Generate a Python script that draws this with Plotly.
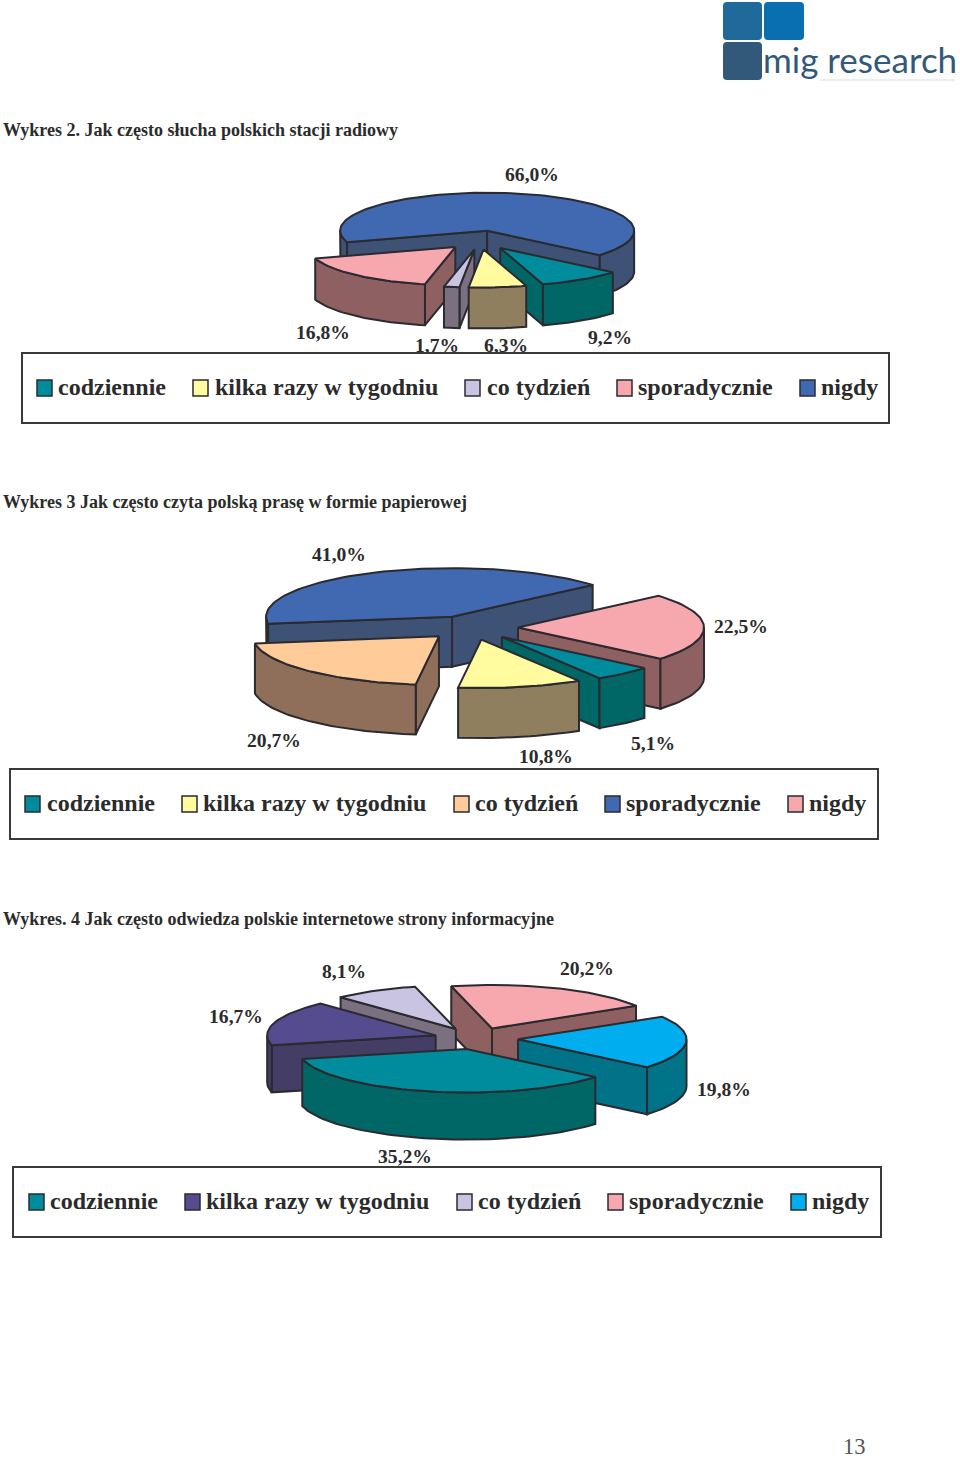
import math
import plotly.graph_objects as go

# ---- data ----
categories = ["codziennie", "kilka razy w tygodniu", "co tydzień", "sporadycznie", "nigdy"]
values_radio = [9.2, 6.3, 1.7, 16.8, 66.0]
values_press = [5.1, 10.8, 20.7, 41.0, 22.5]
values_web = [35.2, 16.7, 8.1, 20.2, 19.8]
title_radio = "Wykres 2. Jak często słucha polskich stacji radiowy"
title_press = "Wykres 3 Jak często czyta polską prasę w formie papierowej"
title_web = "Wykres. 4 Jak często odwiedza polskie internetowe strony informacyjne"

# ---- style ----
TEAL = ("#008C9C", "#006666")
YELLOW = ("#FFFB9E", "#8F7F5E")
LAV = ("#C8C4E2", "#7A7080")
PINK = ("#F7A8AE", "#8F6062")
BLUE = ("#4169B2", "#3E5276")
ORANGE = ("#FFCC99", "#8F6F5A")
PURPLE = ("#544C8E", "#443E66")
SKY = ("#00ADEF", "#007389")
EDGE = "#2A2A30"
TEXT = "#2B2B2B"
SERIF = "Liberation Serif"

charts = [
    dict(values=values_radio, colors=[TEAL, YELLOW, LAV, PINK, BLUE], cx=480, cy=240, rx=147, ry=38, depth=41, start=130,
         title=title_radio, title_y=130,
         label_xy=[(610, 339), (506, 347), (437, 347), (323, 334), (532, 176)],
         box=(22, 353, 889, 423), swatch_x=[37, 193, 465, 617, 800], text_x=[58, 215, 487, 638, 821], legend_y=388),
    dict(values=values_press, colors=[TEAL, YELLOW, ORANGE, BLUE, PINK], cx=471.5, cy=627.7, rx=186, ry=48.5, depth=50, start=130,
         title=title_press, title_y=502,
         label_xy=[(653, 745), (546, 758), (274, 742), (339, 556), (741, 628)],
         box=(10, 769, 878, 839), swatch_x=[25, 182, 454, 605, 788], text_x=[47, 203, 475, 626, 809], legend_y=804),
    dict(values=values_web, colors=[TEAL, PURPLE, LAV, PINK, SKY], cx=476, cy=1038.5, rx=168.5, ry=43.5, depth=47, start=130,
         title=title_web, title_y=919,
         label_xy=[(405, 1158), (236, 1018), (344, 973), (587, 970), (724, 1091)],
         box=(13, 1167, 881, 1237), swatch_x=[29, 185, 457, 608, 791], text_x=[50, 206, 478, 629, 812], legend_y=1202),
]
EXPLODE = 0.25

fig = go.Figure()
shapes = []
annotations = []


def note(x, y, text, size, color, family=SERIF, weight="bold", xanchor="left"):
    annotations.append(dict(x=x, y=y, text=text, xanchor=xanchor, yanchor="middle", showarrow=False,
                            borderpad=0, borderwidth=0,
                            font=dict(family=family, size=size, color=color, weight=weight)))


def poly(xs, ys, color):
    fig.add_trace(go.Scatter(x=xs + xs[:1], y=ys + ys[:1], mode="lines", fill="toself", fillcolor=color,
                             line=dict(color=EDGE, width=2), hoverinfo="skip", showlegend=False))


def arc(c, ax, ay, t1, t2, dy=0):
    n = max(2, int(abs(t2 - t1) / 2))
    ts = [math.radians(t1 + (t2 - t1) * i / n) for i in range(n + 1)]
    return ([ax + c["rx"] * math.sin(t) for t in ts],
            [ay - c["ry"] * math.cos(t) + dy for t in ts])


def draw_pie(c):
    total = sum(c["values"])
    slices = []
    a = c["start"]
    for v, col in zip(c["values"], c["colors"]):
        b = a + 360 * v / total
        slices.append((a, b, col))
        a = b
    # back slices first
    slices.sort(key=lambda s: -math.cos(math.radians((s[0] + s[1]) / 2)))
    d = c["depth"]
    for t1, t2, (top, side) in slices:
        mid = math.radians((t1 + t2) / 2)
        ax = c["cx"] + EXPLODE * c["rx"] * math.sin(mid)
        ay = c["cy"] - EXPLODE * c["ry"] * math.cos(mid)
        # radial cut faces that face the viewer
        for t, nrm in ((t1, t1 - 90), (t2, t2 + 90)):
            if math.cos(math.radians(nrm)) < 0:
                ex = ax + c["rx"] * math.sin(math.radians(t))
                ey = ay - c["ry"] * math.cos(math.radians(t))
                poly([ax, ex, ex, ax], [ay, ey, ey + d, ay + d], side)
        # outer rim: only where the arc faces the viewer
        for k in (-1, 0, 1, 2):
            lo, hi = max(t1, 90 + 360 * k), min(t2, 270 + 360 * k)
            if hi > lo:
                x0, y0 = arc(c, ax, ay, lo, hi)
                x1, y1 = arc(c, ax, ay, hi, lo, d)
                poly(x0 + x1, y0 + y1, side)
        # top face
        xs, ys = arc(c, ax, ay, t1, t2)
        poly([ax] + xs, [ay] + ys, top)


for c in charts:
    draw_pie(c)

for c in charts:
    # percentage labels as trace text so the legend box can clip them
    fig.add_trace(go.Scatter(
        x=[p[0] for p in c["label_xy"]], y=[p[1] for p in c["label_xy"]], mode="text",
        text=[f"{v:.1f}".replace(".", ",") + "%" for v in c["values"]],
        textposition="middle center", textfont=dict(family=SERIF, size=19.6, color=TEXT, weight="bold"),
        hoverinfo="skip", showlegend=False))
    note(3, c["title_y"], c["title"], 18, TEXT)
    x0, y0, x1, y1 = c["box"]
    shapes.append(dict(type="rect", x0=x0, y0=y0, x1=x1, y1=y1, fillcolor="white", line=dict(color="#3A3A3A", width=2),
                       layer="above"))
    for name, col, sx, tx in zip(categories, c["colors"], c["swatch_x"], c["text_x"]):
        shapes.append(dict(type="rect", x0=sx, x1=sx + 15, y0=c["legend_y"] - 8, y1=c["legend_y"] + 8,
                           fillcolor=col[0], line=dict(color=EDGE, width=1.5), layer="above"))
        note(tx, c["legend_y"] - 1, name, 24, TEXT)


def rrect(x0, y0, x1, y1, r, col):
    p = (f"M{x0+r},{y0} L{x1-r},{y0} Q{x1},{y0} {x1},{y0+r} L{x1},{y1-r} Q{x1},{y1} {x1-r},{y1} "
         f"L{x0+r},{y1} Q{x0},{y1} {x0},{y1-r} L{x0},{y0+r} Q{x0},{y0} {x0+r},{y0} Z")
    shapes.append(dict(type="path", path=p, fillcolor=col, line=dict(width=0), layer="above"))


# logo
rrect(723, 2, 762, 40, 4, "#1F6A9B")
rrect(764, 2, 804, 40, 4, "#0A6FAE")
rrect(723, 42, 762, 80, 4, "#33597A")
shapes.append(dict(type="line", x0=820, x1=955, y0=80, y1=80, line=dict(color="#D8DCE0", width=1), layer="above"))
note(763, 59, "mig research", 35, "#33597A", family="Lato", weight="normal")
note(854, 1446, "13", 22.5, "#555555", weight="normal", xanchor="center")

fig.update_layout(
    width=960, height=1458, margin=dict(l=0, r=0, t=0, b=0), paper_bgcolor="white", plot_bgcolor="white",
    xaxis=dict(range=[0, 960], visible=False, fixedrange=True),
    yaxis=dict(range=[1458, 0], visible=False, fixedrange=True),
    shapes=shapes, annotations=annotations, showlegend=False)
fig.write_html("out.html", config={"displayModeBar": False},
               post_script="document.body.style.margin='0';document.documentElement.style.overflow='hidden';")
